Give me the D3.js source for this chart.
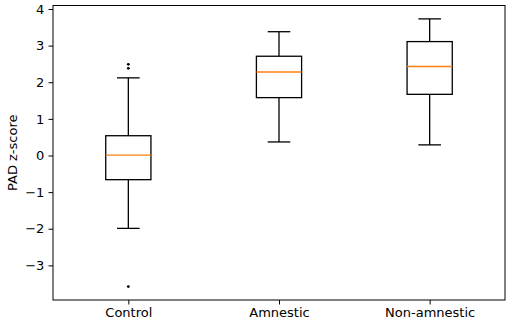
<!DOCTYPE html>
<html>
<head>
<meta charset="utf-8">
<script src="https://cdn.jsdelivr.net/npm/d3@7"></script>
<style>
  body { margin: 0; background: #fff; }
  text { font-family: "DejaVu Sans", sans-serif; }
</style>
</head>
<body>
<div id="chart"></div>
<script>
// Box plot summaries (PAD z-score per group)
const groups = ["Control", "Amnestic", "Non-amnestic"];
const q1 = [-0.66, 1.58, 1.67];
const medians = [0.01, 2.28, 2.43];
const q3 = [0.54, 2.71, 3.11];
const whiskerLow = [-1.99, 0.37, 0.29];
const whiskerHigh = [2.12, 3.38, 3.73];
const fliers = [[2.38, 2.49, -3.58], [], []];
const yTicks = [-3, -2, -1, 0, 1, 2, 3, 4];

const width = 510, height = 324;
const margin = { top: 5.5, right: 5, bottom: 24, left: 53 };
const innerWidth = width - margin.left - margin.right;
const innerHeight = height - margin.top - margin.bottom;

const svg = d3.select("#chart")
    .append("svg")
    .attr("width", width)
    .attr("height", height);

const g = svg.append("g")
    .attr("transform", `translate(${margin.left},${margin.top})`);

// y limits: data extent plus 5% padding, like matplotlib
const allVals = whiskerLow.concat(whiskerHigh, fliers.flat());
const lo = d3.min(allVals), hi = d3.max(allVals);
const pad = (hi - lo) * 0.05;

const x = d3.scaleLinear().domain([0.5, 3.5]).range([0, innerWidth]);
const y = d3.scaleLinear().domain([lo - pad, hi + pad]).range([innerHeight, 0]);

const boxW = x(1.3) - x(1);      // widths = 0.3
const capW = boxW / 2;

// axes
const fontSize = 13;
const tickLen = 4.5;
const yAxis = g.append("g")
    .call(d3.axisLeft(y).tickValues(yTicks).tickSize(tickLen).tickPadding(4.2)
        .tickFormat(d => d < 0 ? "\u2212" + Math.abs(d) : d));
const xAxis = g.append("g")
    .attr("transform", `translate(0,${innerHeight})`)
    .call(d3.axisBottom(x).tickValues([1, 2, 3]).tickSize(tickLen).tickPadding(2.8)
        .tickFormat((d, i) => groups[i]));
[yAxis, xAxis].forEach(a => {
    a.select(".domain").remove();
    a.selectAll("line").attr("stroke", "#000").attr("stroke-width", 1);
    a.selectAll("text").attr("fill", "#000").style("font-size", fontSize + "px");
});

// y label
g.append("text")
    .attr("transform", "rotate(-90)")
    .attr("x", -innerHeight / 2)
    .attr("y", -margin.left + 16.5)
    .attr("text-anchor", "middle")
    .attr("fill", "#000")
    .style("font-size", fontSize + "px")
    .text("PAD z-score");

// boxes
const data = groups.map((name, i) => ({
    pos: i + 1, q1: q1[i], med: medians[i], q3: q3[i],
    lo: whiskerLow[i], hi: whiskerHigh[i], fliers: fliers[i]
}));

const box = g.selectAll(".box")
    .data(data)
    .join("g")
    .attr("class", "box")
    .attr("stroke", "#000")
    .attr("stroke-width", 1.3)
    .attr("fill", "none");

// whiskers
box.append("line")
    .attr("x1", d => x(d.pos)).attr("x2", d => x(d.pos))
    .attr("y1", d => y(d.q3)).attr("y2", d => y(d.hi));
box.append("line")
    .attr("x1", d => x(d.pos)).attr("x2", d => x(d.pos))
    .attr("y1", d => y(d.q1)).attr("y2", d => y(d.lo));
// caps
box.append("line")
    .attr("x1", d => x(d.pos) - capW / 2).attr("x2", d => x(d.pos) + capW / 2)
    .attr("y1", d => y(d.hi)).attr("y2", d => y(d.hi));
box.append("line")
    .attr("x1", d => x(d.pos) - capW / 2).attr("x2", d => x(d.pos) + capW / 2)
    .attr("y1", d => y(d.lo)).attr("y2", d => y(d.lo));
// box
box.append("rect")
    .attr("x", d => x(d.pos) - boxW / 2)
    .attr("width", boxW)
    .attr("y", d => y(d.q3))
    .attr("height", d => y(d.q1) - y(d.q3));
// median
box.append("line")
    .attr("x1", d => x(d.pos) - boxW / 2).attr("x2", d => x(d.pos) + boxW / 2)
    .attr("y1", d => y(d.med)).attr("y2", d => y(d.med))
    .attr("stroke", "#ff7f0e");
// fliers
box.selectAll("circle")
    .data(d => d.fliers.map(v => ({ pos: d.pos, v })))
    .join("circle")
    .attr("cx", d => x(d.pos))
    .attr("cy", d => y(d.v))
    .attr("r", 1.4)
    .attr("fill", "#000")
    .attr("stroke", "none");

// frame
g.append("rect")
    .attr("width", innerWidth)
    .attr("height", innerHeight)
    .attr("fill", "none")
    .attr("stroke", "#000")
    .attr("stroke-width", 1);
</script>
</body>
</html>
